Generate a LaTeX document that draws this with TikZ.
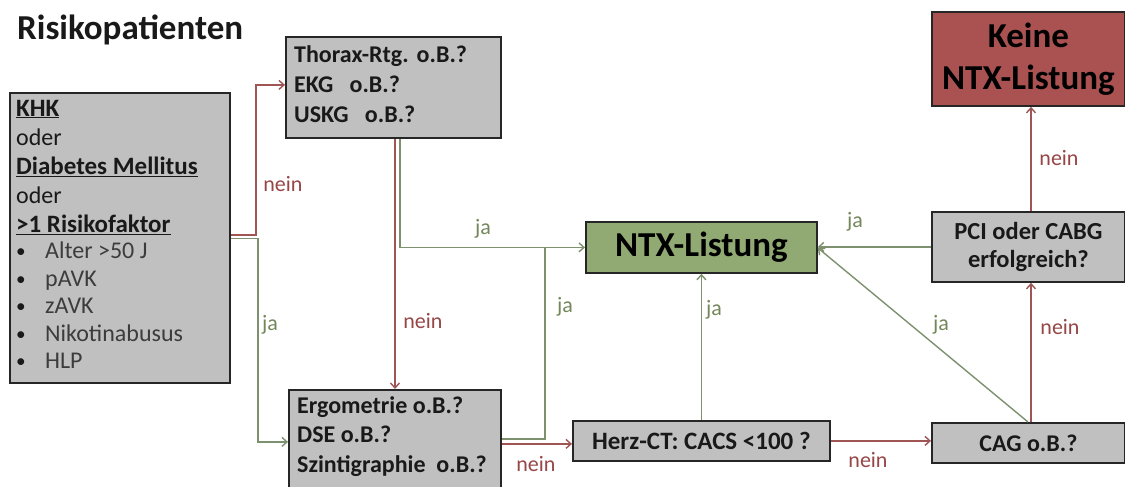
\documentclass[tikz,border=0pt]{standalone}
\usepackage{fontspec}
\setmainfont{Carlito}
\usetikzlibrary{arrows.meta}
\definecolor{boxgray}{RGB}{192,192,192}
\definecolor{ntxgreen}{RGB}{145,170,115}
\definecolor{keinered}{RGB}{170,82,82}
\definecolor{linered}{RGB}{160,85,85}
\definecolor{linegreen}{RGB}{125,145,110}
\definecolor{txtred}{RGB}{150,70,70}
\definecolor{txtgreen}{RGB}{115,135,90}
\definecolor{boxtext}{RGB}{25,25,25}
\definecolor{bullettext}{RGB}{60,60,60}
\newcommand{\bigbold}[1]{{\fontsize{25}{29}\selectfont\bfseries\underline{#1}}}
\newcommand{\smallbullet}{\makebox[29pt][l]{\raisebox{1pt}{\scalebox{0.8}{•}}}}
\begin{document}
\begin{tikzpicture}[x=1pt,y=-1pt,
  box/.style={draw=black!85, line width=1.8pt, fill=boxgray, rectangle, inner sep=0pt, anchor=north west, text=boxtext},
  boxtxt/.style={anchor=north west, inner sep=0pt, text=boxtext},
  nein/.style={draw=linered, line width=1.4pt},
  ja/.style={draw=linegreen, line width=1.4pt},
  neinarrow/.style={nein, -{Straight Barb[length=5pt,width=9pt]}},
  jaarrow/.style={ja, -{Straight Barb[length=5pt,width=9pt]}},
  lblr/.style={text=txtred, font=\fontsize{22}{26}\selectfont, inner sep=0pt},
  lblg/.style={text=txtgreen, font=\fontsize{22}{26}\selectfont, inner sep=0pt},
]
\useasboundingbox (0,0) rectangle (1125,487);
\clip (0,0) rectangle (1125,487);

% title
\node[anchor=base west, inner sep=0pt, text=boxtext, font=\fontsize{35}{40}\selectfont\bfseries] (title) at (17,40) {Risikopatienten};

% boxes
\node[box, minimum width=220pt, minimum height=290pt] (khk) at (9,92) {};
\node[boxtxt, font=\fontsize{24}{29}\selectfont] (khktext) at (16,95.7) {%
\begin{tabular}{@{}l@{}}
\bigbold{KHK}\\
oder\\
\bigbold{Diabetes Mellitus}\\
oder\\
\bigbold{>1 Risikofaktor}\\[-2.5pt]
\smallbullet{\color{bullettext}Alter >50 J}\\[-1.5pt]
\smallbullet{\color{bullettext}pAVK}\\[-1.5pt]
\smallbullet{\color{bullettext}zAVK}\\[-1.5pt]
\smallbullet{\color{bullettext}Nikotinabusus}\\[-1.5pt]
\smallbullet{\color{bullettext}HLP}
\end{tabular}};

\node[box, minimum width=215pt, minimum height=101pt] (thorax) at (285,36) {};
\node[boxtxt, font=\fontsize{24}{30}\selectfont\bfseries] (thoraxtext) at (294,41) {%
\begin{tabular}{@{}l@{}}
Thorax-Rtg.\hspace{8pt}o.B.?\\
EKG~~ o.B.?\\
USKG~~ o.B.?
\end{tabular}};

\node[box, minimum width=212pt, minimum height=104pt] (ergo) at (288,389) {};
\node[boxtxt, font=\fontsize{24}{29.5}\selectfont\bfseries] (ergotext) at (297,392.35) {%
\begin{tabular}{@{}l@{}}
Ergometrie o.B.?\\
DSE o.B.?\\
Szintigraphie~ o.B.?
\end{tabular}};

\node[box, fill=ntxgreen, minimum width=231pt, minimum height=51pt, font=\fontsize{35}{40}\selectfont\bfseries, text=black] (ntx) at (585,221) {NTX-Listung};

\node[box, fill=keinered, minimum width=193pt, minimum height=94pt, align=center, font=\fontsize{35}{42}\selectfont\bfseries, text=black] (keine) at (931,11) {Keine\\NTX-Listung};

\node[box, minimum width=193pt, minimum height=70pt, align=center, font=\fontsize{24.5}{28}\selectfont\bfseries] (pci) at (931,211) {PCI oder CABG\\erfolgreich?};

\node[box, minimum width=193pt, minimum height=40pt, font=\fontsize{24}{28}\selectfont\bfseries] (cag) at (931,422) {CAG o.B.?};

\node[box, minimum width=257pt, minimum height=40pt, font=\fontsize{25}{28}\selectfont\bfseries] (herz) at (572,420) {Herz-CT: CACS <100 ?};

% helper coordinates
\coordinate (xa) at (256,0);
\coordinate (xb) at (258,0);
\coordinate (xr) at (395,0);
\coordinate (xg) at (400,0);
\coordinate (xj) at (545,0);
\coordinate (xc) at (1031,0);
\coordinate (xd) at (1028,0);
\coordinate (tin) at ([yshift=2.5pt]thorax.west);

% connectors
\draw[neinarrow] ([yshift=3pt]khk.east) -| (xa |- tin) -- (tin);
\draw[jaarrow] ([yshift=-0.5pt]khk.east) -| (xb |- ergo.west) -- (ergo.west);
\draw[neinarrow] (thorax.south -| xr) -- (ergo.north -| xr);
\draw[jaarrow] (thorax.south -| xg) |- (ntx.west);
\draw[ja] ([yshift=3pt]ergo.east) -| (xj |- ntx.west);
\draw[neinarrow] ([yshift=-2pt]ergo.east) -- ([yshift=-2pt]ergo.east -| herz.west);
\draw[jaarrow] (herz.north) -- (ntx.south);
\draw[neinarrow] (herz.east) -- (herz.east -| cag.west);
\draw[neinarrow] (cag.north -| xc) -- (pci.south -| xc);
\draw[neinarrow] (pci.north -| xc) -- (keine.south -| xc);
\draw[jaarrow] (pci.west) -- (pci.west -| ntx.east);
\draw[jaarrow] (cag.north -| xd) -- ([yshift=-0.5pt]ntx.east);

% labels
\node[lblr] (l1) at (283,184) {nein};
\node[lblg] (l2) at (270,325) {ja};
\node[lblr] (l3) at (423,321) {nein};
\node[lblg] (l4) at (483,229) {ja};
\node[lblg] (l5) at (565,307) {ja};
\node[lblr] (l6) at (536,464) {nein};
\node[lblg] (l7) at (714,310) {ja};
\node[lblr] (l8) at (868,460) {nein};
\node[lblg] (l9) at (855,222) {ja};
\node[lblg] (l10) at (941,325) {ja};
\node[lblr] (l11) at (1060,327) {nein};
\node[lblr] (l12) at (1059,158) {nein};
\end{tikzpicture}
\end{document}
